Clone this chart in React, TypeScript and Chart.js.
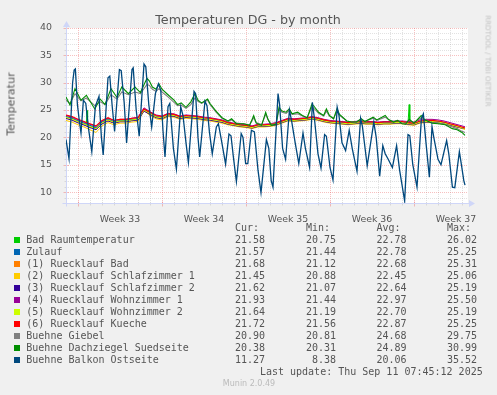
import React, { useEffect, useRef } from "react";
import { Chart, registerables } from "chart.js";

Chart.register(...registerables);

// ---- Legend / series meta ----
const seriesNames = [
  "Bad Raumtemperatur",
  "Zulauf",
  "(1) Ruecklauf Bad",
  "(2) Ruecklauf Schlafzimmer 1",
  "(3) Ruecklauf Schlafzimmer 2",
  "(4) Ruecklauf Wohnzimmer 1",
  "(5) Ruecklauf Wohnzimmer 2",
  "(6) Ruecklauf Kueche",
  "Buehne Giebel",
  "Buehne Dachziegel Suedseite",
  "Buehne Balkon Ostseite",
];
const seriesColors = [
  "#00CC00", "#0066B3", "#FF8000", "#FFCC00", "#330099", "#990099",
  "#CCFF00", "#FF0000", "#808080", "#008F00", "#00487D",
];
const curValues = ["21.58", "21.57", "21.68", "21.45", "21.62", "21.93", "21.64", "21.72", "20.90", "20.38", "11.27"];
const minValues = ["20.75", "21.44", "21.12", "20.88", "21.07", "21.44", "21.19", "21.56", "20.81", "20.31", "8.38"];
const avgValues = ["22.78", "22.78", "22.68", "22.45", "22.64", "22.97", "22.70", "22.87", "24.68", "24.89", "20.06"];
const maxValues = ["26.02", "25.25", "25.31", "25.06", "25.19", "25.50", "25.19", "25.25", "29.75", "30.99", "35.52"];

// ---- Axes ----
// x values are days since Sat Aug 9 2025 00:00
const weekLabelPositions = [4.5, 11.5, 18.5, 25.5, 32.5];
const weekLabels = ["Week 33", "Week 34", "Week 35", "Week 36", "Week 37"];
const majorDays = [1, 8, 15, 22, 29];
const yTickValues = [10, 15, 20, 25, 30, 35, 40];

// ---- Data ----
const clusterTimes = [0, 0.5, 1, 1.5, 2, 2.5, 3, 3.5, 4, 4.5, 5, 5.5, 6, 6.5, 7, 7.5, 8, 8.5, 9, 9.5, 10, 10.5, 11, 11.5, 12, 12.5, 13, 13.5, 14, 14.5, 15, 15.5, 16, 16.5, 17, 17.5, 18, 18.5, 19, 19.5, 20, 20.5, 21, 21.5, 22, 22.5, 23, 23.5, 24, 24.5, 25, 25.5, 26, 26.5, 27, 27.5, 28, 28.5, 29, 29.5, 30, 30.5, 31, 31.5, 32, 32.5, 33, 33.25];

const badTimes = [0, 0.5, 1, 1.5, 1.7, 1.75, 1.8, 2, 2.5, 3,
  3.5, 4, 4.5, 5, 5.5, 6, 6.5, 7, 7.5, 8,
  8.5, 9, 9.5, 10, 10.5, 11, 11.5, 12, 12.5, 13,
  13.5, 14, 14.5, 15, 15.5, 16, 16.5, 17, 17.5, 18,
  18.5, 19, 19.5, 20, 20.5, 21, 21.5, 22, 22.5, 23,
  23.5, 24, 24.5, 25, 25.5, 26, 26.5, 27, 27.5, 28,
  28.5, 28.55, 28.6, 28.65, 29, 29.5, 30, 30.5, 31, 31.5,
  32, 32.5, 33, 33.25];
const badRaumValues = [23.75, 23.45, 22.95, 22.55, 22.3, 24.9, 22.3, 22.1, 21.7, 22.75,
  23.3, 22.8, 23.05, 23.05, 23.25, 23.35, 25.0, 24.4, 23.8, 23.6,
  24.1, 24.0, 23.6, 23.8, 23.7, 23.6, 23.4, 23.3, 23.1, 22.9,
  22.55, 22.35, 22.15, 22.05, 21.85, 22.15, 22.15, 22.25, 22.45, 22.85,
  23.25, 23.15, 23.25, 23.35, 23.55, 23.35, 23.05, 22.85, 22.75, 22.65,
  22.55, 22.65, 22.75, 22.65, 22.65, 22.55, 22.65, 22.65, 22.75, 22.75,
  22.55, 22.55, 26.0, 22.5, 22.45, 22.85, 22.95, 22.95, 22.85, 22.65,
  22.35, 22.05, 21.75, 21.58];

const zulaufValues = [23.8, 23.5, 23.0, 22.6, 22.2, 21.8, 22.8, 23.3, 22.85, 23.1,
  23.1, 23.3, 23.4, 25.2, 24.4, 23.8, 23.6, 24.15, 24.05, 23.65,
  23.85, 23.75, 23.65, 23.45, 23.35, 23.15, 22.95, 22.6, 22.4, 22.2,
  22.1, 21.9, 22.2, 22.2, 22.3, 22.5, 22.9, 23.3, 23.2, 23.3,
  23.4, 23.6, 23.4, 23.1, 22.9, 22.8, 22.7, 22.6, 22.7, 22.8,
  22.7, 22.7, 22.6, 22.7, 22.7, 22.8, 22.8, 22.6, 22.5, 22.9,
  23.0, 23.0, 22.9, 22.7, 22.4, 22.1, 21.7, 21.57];

const rBadValues = [23.55, 23.25, 22.75, 22.35, 21.9, 21.5, 22.55, 23.1, 22.65, 22.9,
  22.9, 23.1, 23.2, 24.9, 24.25, 23.65, 23.45, 24.0, 23.9, 23.5,
  23.7, 23.6, 23.5, 23.3, 23.2, 23.0, 22.8, 22.45, 22.25, 22.05,
  21.95, 21.75, 22.05, 22.05, 22.15, 22.35, 22.75, 23.15, 23.05, 23.15,
  23.25, 23.45, 23.25, 22.95, 22.75, 22.65, 22.55, 22.45, 22.55, 22.65,
  22.55, 22.55, 22.45, 22.55, 22.55, 22.65, 22.65, 22.45, 22.35, 22.75,
  22.85, 22.85, 22.75, 22.55, 22.3, 22.0, 21.7, 21.68];

const rSchlaf1Values = [23.1, 22.8, 22.3, 21.9, 21.4, 20.9, 22.1, 22.7, 22.3, 22.6,
  22.6, 22.8, 22.9, 24.9, 24.0, 23.4, 23.2, 23.8, 23.7, 23.3,
  23.5, 23.4, 23.3, 23.1, 23.0, 22.8, 22.6, 22.3, 22.1, 21.9,
  21.8, 21.6, 21.9, 21.9, 22.0, 22.2, 22.6, 23.0, 22.9, 23.0,
  23.1, 23.3, 23.1, 22.8, 22.6, 22.5, 22.4, 22.3, 22.4, 22.5,
  22.4, 22.4, 22.3, 22.4, 22.4, 22.5, 22.5, 22.3, 22.2, 22.6,
  22.7, 22.7, 22.6, 22.4, 22.15, 21.9, 21.6, 21.45];

const rSchlaf2Values = [23.45, 23.15, 22.65, 22.25, 21.8, 21.4, 22.45, 23.0, 22.6, 22.85,
  22.85, 23.05, 23.15, 24.8, 24.2, 23.6, 23.4, 23.95, 23.85, 23.45,
  23.65, 23.55, 23.45, 23.25, 23.15, 22.95, 22.75, 22.4, 22.2, 22.0,
  21.9, 21.7, 22.0, 22.0, 22.1, 22.3, 22.7, 23.1, 23.0, 23.1,
  23.2, 23.4, 23.2, 22.9, 22.7, 22.6, 22.5, 22.4, 22.5, 22.6,
  22.5, 22.5, 22.4, 22.5, 22.5, 22.6, 22.6, 22.4, 22.3, 22.7,
  22.8, 22.8, 22.7, 22.5, 22.25, 21.95, 21.7, 21.62];

const rWohn1Values = [24.0, 23.7, 23.2, 22.8, 22.4, 22.0, 23.0, 23.5, 23.1, 23.3,
  23.3, 23.5, 23.7, 25.4, 24.7, 24.1, 23.9, 24.4, 24.3, 23.9,
  24.1, 24.0, 23.9, 23.7, 23.6, 23.4, 23.2, 22.8, 22.6, 22.4,
  22.3, 22.1, 22.4, 22.4, 22.5, 22.7, 23.1, 23.5, 23.4, 23.5,
  23.6, 23.8, 23.6, 23.3, 23.1, 23.0, 22.9, 22.8, 22.9, 23.0,
  22.9, 22.9, 22.8, 22.9, 22.9, 23.0, 23.0, 22.9, 22.8, 23.2,
  23.3, 23.3, 23.2, 23.0, 22.7, 22.4, 22.1, 21.93];

const rWohn2Values = [23.65, 23.35, 22.85, 22.45, 22.0, 21.6, 22.65, 23.2, 22.75, 23.0,
  23.0, 23.2, 23.3, 25.0, 24.35, 23.75, 23.55, 24.1, 24.0, 23.6,
  23.8, 23.7, 23.6, 23.4, 23.3, 23.1, 22.9, 22.5, 22.3, 22.1,
  22.0, 21.8, 22.1, 22.1, 22.2, 22.4, 22.8, 23.2, 23.1, 23.2,
  23.3, 23.5, 23.3, 23.0, 22.8, 22.7, 22.6, 22.5, 22.6, 22.7,
  22.6, 22.6, 22.5, 22.6, 22.6, 22.7, 22.7, 22.5, 22.4, 22.8,
  22.9, 22.9, 22.8, 22.6, 22.35, 22.05, 21.75, 21.64];

const rKuecheValues = [24.1, 23.8, 23.3, 22.9, 22.5, 22.1, 23.1, 23.6, 23.1, 23.3,
  23.3, 23.5, 23.6, 25.2, 24.6, 24.0, 23.8, 24.3, 24.2, 23.8,
  24.0, 23.9, 23.8, 23.6, 23.5, 23.3, 23.1, 22.7, 22.5, 22.3,
  22.2, 22.0, 22.3, 22.3, 22.4, 22.6, 23.0, 23.4, 23.3, 23.4,
  23.5, 23.7, 23.5, 23.2, 23.0, 22.9, 22.8, 22.7, 22.8, 22.9,
  22.8, 22.8, 22.7, 22.8, 22.8, 22.9, 22.9, 22.7, 22.6, 23.0,
  23.1, 23.1, 23.0, 22.8, 22.5, 22.2, 21.9, 21.72];

const buehneTimes = [0, 0.33, 0.75, 1.25, 1.7, 2.4, 2.85, 3.25, 3.75, 4.25,
  4.65, 5.2, 5.75, 6.2, 6.75, 6.95, 7.2, 7.5, 7.75, 8.0,
  8.5, 9.0, 9.3, 9.6, 10.0, 10.4, 10.75, 11.0, 11.3, 11.8,
  12.0, 12.5, 13.0, 13.5, 13.8, 14.2, 14.8, 15.3, 15.64, 15.85,
  16.3, 16.64, 16.85, 17.1, 17.5, 17.75, 18.0, 18.35, 18.6, 18.85,
  19.3, 19.7, 20.1, 20.5, 20.7, 21.05, 21.47, 21.7, 21.95, 22.3,
  22.58, 22.8, 23.4, 23.8, 24.2, 24.6, 24.9, 25.6, 25.9, 26.6,
  26.9, 27.3, 27.64, 28.0, 28.3, 28.6, 29.0, 29.6, 29.9, 30.5,
  31.0, 31.6, 32.2, 32.6, 33.0, 33.25];

const giebelValues = [26.8, 26.2, 28.0, 26.7, 27.2, 25.8, 26.5, 26.0, 27.8, 27.0,
  28.3, 27.8, 28.3, 28.0, 29.7, 29.5, 28.8, 28.4, 28.9, 28.3,
  27.4, 26.4, 25.8, 25.9, 25.3, 26.0, 27.2, 26.6, 26.2, 26.8,
  26.0, 24.6, 23.5, 22.9, 23.2, 22.6, 22.5, 22.3, 23.6, 22.7,
  22.3, 24.2, 23.2, 22.4, 22.5, 25.1, 24.6, 24.4, 24.9, 24.2,
  24.3, 23.9, 23.6, 25.6, 25.2, 24.4, 23.9, 24.8, 23.9, 23.4,
  24.8, 24.0, 23.0, 22.8, 22.8, 23.2, 22.9, 23.5, 23.1, 23.7,
  23.2, 22.9, 23.1, 22.6, 22.5, 23.2, 22.7, 23.6, 23.2, 22.7,
  22.6, 22.4, 21.9, 21.6, 21.1, 20.9];

const dachValues = [27.4, 25.9, 28.9, 26.8, 27.7, 25.2, 27.0, 26.0, 28.9, 27.3,
  29.2, 28.0, 29.2, 28.2, 30.8, 30.3, 29.2, 28.8, 29.8, 28.8,
  27.8, 26.8, 26.0, 26.3, 25.5, 26.5, 28.0, 26.8, 26.3, 27.0,
  26.2, 24.8, 23.6, 23.0, 23.4, 22.5, 22.5, 22.2, 24.0, 22.6,
  22.2, 24.6, 23.2, 22.2, 22.4, 25.5, 24.8, 24.6, 25.2, 24.3,
  24.6, 24.0, 23.6, 26.1, 25.6, 24.6, 24.0, 25.2, 24.0, 23.4,
  25.2, 24.2, 23.0, 22.8, 22.8, 23.4, 22.9, 23.7, 23.2, 24.0,
  23.2, 22.8, 23.1, 22.5, 22.4, 23.3, 22.6, 24.0, 23.2, 22.6,
  22.5, 22.3, 21.6, 21.4, 20.9, 20.38];

const balkonTimes = [0.0, 0.25, 0.55, 0.68, 0.78, 0.95, 1.1, 1.25, 1.45, 1.65,
  1.85, 2.15, 2.45, 2.75, 2.95, 3.1, 3.5, 3.65, 3.85, 4.05,
  4.45, 4.6, 4.85, 5.05, 5.5, 5.6, 5.85, 6.1, 6.5, 6.65,
  6.9, 7.14, 7.45, 7.7, 7.9, 8.08, 8.25, 8.5, 8.65, 8.95,
  9.2, 9.56, 9.75, 10.0, 10.2, 10.67, 10.8, 11.0, 11.14, 11.58,
  11.75, 11.95, 12.19, 12.53, 12.7, 12.95, 13.3, 13.58, 13.75, 13.95,
  14.2, 14.6, 14.75, 14.97, 15.15, 15.45, 15.7, 16.0, 16.25, 16.7,
  16.9, 17.1, 17.25, 17.67, 17.8, 18.05, 18.3, 18.62, 18.8, 19.1,
  19.4, 19.75, 19.95, 20.3, 20.53, 20.7, 21.0, 21.25, 21.55, 21.7,
  22.0, 22.25, 22.6, 22.75, 23.0, 23.3, 23.6, 23.85, 24.25, 24.55,
  24.7, 25.1, 25.65, 25.85, 26.14, 26.4, 26.6, 26.85, 27.2, 27.55,
  27.8, 28.22, 28.5, 28.65, 28.9, 29.25, 29.62, 29.78, 30.0, 30.28,
  30.5, 30.65, 31.0, 31.25, 31.72, 31.9, 32.2, 32.4, 32.78, 32.95,
  33.15, 33.25];

const balkonValues = [19.6, 16.1, 30.0, 32.3, 32.5, 26.0, 23.2, 20.8, 26.8, 26.2,
  22.0, 17.4, 25.7, 27.5, 20.0, 16.8, 30.9, 31.2, 25.7, 21.1,
  32.4, 32.2, 26.3, 19.0, 32.4, 32.7, 25.0, 20.2, 33.4, 32.9,
  26.0, 21.9, 28.0, 29.8, 28.6, 21.3, 16.4, 25.6, 26.2, 18.0,
  14.2, 25.6, 24.0, 19.0, 15.4, 28.4, 28.0, 20.0, 16.4, 26.6,
  25.8, 21.0, 17.0, 21.9, 22.5, 19.5, 15.1, 20.6, 20.3, 16.4,
  11.9, 20.7, 20.0, 15.2, 15.2, 21.3, 21.0, 14.0, 9.9, 19.6,
  18.0, 12.1, 10.9, 28.0, 26.0, 18.0, 16.0, 25.0, 23.0, 19.0,
  15.2, 20.8, 18.0, 14.5, 26.4, 23.5, 17.0, 14.4, 20.5, 20.2,
  14.5, 12.2, 25.5, 24.0, 19.0, 17.6, 21.3, 18.0, 13.8, 23.5,
  22.0, 14.8, 22.8, 20.0, 12.9, 18.5, 17.0, 16.0, 14.5, 18.5,
  14.0, 8.4, 20.5, 20.3, 15.0, 10.9, 23.5, 24.3, 19.0, 12.7,
  22.0, 20.0, 16.0, 15.0, 19.4, 17.0, 10.9, 10.8, 17.4, 15.0,
  12.1, 11.27];

const seriesTimes = [badTimes, clusterTimes, clusterTimes, clusterTimes, clusterTimes, clusterTimes, clusterTimes, clusterTimes, buehneTimes, buehneTimes, balkonTimes];
const seriesValues = [badRaumValues, zulaufValues, rBadValues, rSchlaf1Values, rSchlaf2Values, rWohn1Values, rWohn2Values, rKuecheValues, giebelValues, dachValues, balkonValues];
const seriesWidths = [1, 1, 1, 1, 1, 1, 1, 1.1, 1.1, 1.1, 1.3];

const GRID = "rgba(150,150,150,0.28)";
const MGRID = "rgba(235,90,90,0.38)";
const AXIS = "#CFD6F8";
const FONT_COLOR = "#555555";

const munGrid = {
  id: "munGrid",
  beforeDraw(chart: any) {
    const { ctx, chartArea: a } = chart;
    ctx.save();
    ctx.fillStyle = "#F0F0F0";
    ctx.fillRect(0, 0, chart.width, chart.height);
    ctx.fillStyle = "#FFFFFF";
    ctx.fillRect(a.left, a.top, a.right - a.left, a.bottom - a.top);
    ctx.restore();
  },
  beforeDatasetsDraw(chart: any) {
    const { ctx, chartArea: a } = chart;
    const xs = chart.scales.x;
    const ys = chart.scales.y;
    const px = (v: number) => Math.round(xs.getPixelForValue(v)) + 0.5;
    const py = (v: number) => Math.round(ys.getPixelForValue(v)) + 0.5;
    const line = (x1: number, y1: number, x2: number, y2: number, c: string) => {
      ctx.strokeStyle = c;
      ctx.beginPath();
      ctx.moveTo(x1, y1);
      ctx.lineTo(x2, y2);
      ctx.stroke();
    };
    ctx.save();
    ctx.lineWidth = 1;
    ctx.setLineDash([1, 1]);
    const dayMax = Math.floor(xs.max);
    for (let d = Math.ceil(xs.min); d <= dayMax; d++) {
      if (majorDays.indexOf(d) >= 0) continue;
      const x = px(d);
      if (x <= a.left + 1) continue;
      line(x, a.top, x, a.bottom, GRID);
    }
    for (let v = 9; v < 40; v++) {
      if (yTickValues.indexOf(v) >= 0) continue;
      const y = py(v);
      line(a.left, y, a.right, y, GRID);
    }
    majorDays.forEach((d) => {
      const x = px(d);
      line(x, a.top, x, a.bottom, MGRID);
    });
    yTickValues.forEach((v) => {
      const y = py(v);
      line(a.left, y, a.right, y, MGRID);
    });
    ctx.setLineDash([]);
    // tick marks
    const yb = Math.round(a.bottom) + 0.5;
    const xl = Math.round(a.left) + 0.5;
    for (let d = Math.ceil(xs.min); d <= dayMax; d++) {
      const x = px(d);
      if (majorDays.indexOf(d) >= 0) line(x, yb - 2, x, yb + 3, MGRID);
      else line(x, yb - 1, x, yb + 2, GRID);
    }
    for (let v = 9; v <= 40; v++) {
      const y = py(v);
      if (yTickValues.indexOf(v) >= 0) line(xl - 3, y, xl + 2, y, MGRID);
      else line(xl - 2, y, xl + 1, y, GRID);
    }
    // axes
    line(xl - 4, yb, a.right + 2, yb, AXIS);
    line(xl, yb + 3, xl, a.top - 2, AXIS);
    ctx.fillStyle = AXIS;
    ctx.beginPath();
    ctx.moveTo(a.right + 1, yb - 3.5);
    ctx.lineTo(a.right + 7, yb);
    ctx.lineTo(a.right + 1, yb + 3.5);
    ctx.closePath();
    ctx.fill();
    ctx.beginPath();
    ctx.moveTo(xl - 3.5, a.top - 1);
    ctx.lineTo(xl, a.top - 7);
    ctx.lineTo(xl + 3.5, a.top - 1);
    ctx.closePath();
    ctx.fill();
    ctx.restore();
  },
};

const mono = "'DejaVu Sans Mono', monospace";
const sans = "'DejaVu Sans', sans-serif";

export default function App() {
  const ref = useRef<HTMLCanvasElement>(null);

  useEffect(() => {
    const datasets = seriesNames.map((name, i) => ({
      label: name,
      data: seriesTimes[i].map((t, j) => ({ x: t, y: seriesValues[i][j] })),
      borderColor: seriesColors[i],
      backgroundColor: seriesColors[i],
      borderWidth: seriesWidths[i],
      pointRadius: 0,
      tension: 0,
      fill: false,
      order: 11 - i,
    }));
    const chart = new Chart(ref.current as HTMLCanvasElement, {
      type: "line",
      data: { datasets },
      options: {
        responsive: false,
        animation: false,
        devicePixelRatio: 1,
        layout: { padding: { left: 0, top: 28, right: 29, bottom: 172 } },
        plugins: {
          legend: { display: false },
          title: { display: false },
          tooltip: { enabled: false },
        },
        scales: {
          x: {
            type: "linear",
            min: 0,
            max: 33.5,
            grid: { display: false },
            border: { display: false },
            afterBuildTicks: (s: any) => {
              s.ticks = weekLabelPositions.map((v) => ({ value: v }));
            },
            afterFit: (s: any) => {
              s.height = 20;
            },
            ticks: {
              autoSkip: false,
              maxRotation: 0,
              padding: 3,
              color: FONT_COLOR,
              font: { family: "DejaVu Sans", size: 9.4 },
              callback: (_v: any, i: number) => weekLabels[i],
            },
          },
          y: {
            type: "linear",
            min: 8,
            max: 40,
            grid: { display: false },
            border: { display: false },
            afterBuildTicks: (s: any) => {
              s.ticks = yTickValues.map((v) => ({ value: v }));
            },
            afterFit: (s: any) => {
              s.width = 66;
            },
            ticks: {
              padding: 6,
              color: FONT_COLOR,
              font: { family: "DejaVu Sans", size: 9.4 },
              callback: (v: any) => String(v),
            },
          },
        },
      },
      plugins: [munGrid],
    } as any);
    return () => chart.destroy();
  }, []);

  const rowTop = (i: number) => 233.7 + 12 * i;
  const valueCols = [
    { right: 265, head: "Cur:", vals: curValues },
    { right: 336, head: "Min:", vals: minValues },
    { right: 406.5, head: "Avg:", vals: avgValues },
    { right: 477, head: "Max:", vals: maxValues },
  ];
  const txt: React.CSSProperties = {
    position: "absolute",
    fontFamily: mono,
    fontSize: 10,
    lineHeight: "12px",
    color: FONT_COLOR,
    whiteSpace: "pre",
  };

  return (
    <div style={{ position: "absolute", left: 0, top: 0, width: 497, height: 395, background: "#F0F0F0", overflow: "hidden" }}>
      <canvas ref={ref} width={497} height={395} style={{ position: "absolute", left: 0, top: 0, width: 497, height: 395 }} />
      <div style={{ position: "absolute", left: 248, top: 20, transform: "translate(-50%,-50%)", fontFamily: sans, fontSize: 12.7, lineHeight: 1, color: FONT_COLOR, whiteSpace: "nowrap" }}>
        Temperaturen DG - by month
      </div>
      <div style={{ position: "absolute", left: 11, top: 104, transform: "translate(-50%,-50%) rotate(-90deg)", fontFamily: sans, fontSize: 11, lineHeight: 1, color: FONT_COLOR, whiteSpace: "nowrap" }}>
        Temperatur
      </div>
      <div style={{ position: "absolute", left: 488, top: 61, transform: "translate(-50%,-50%) rotate(90deg)", fontFamily: sans, fontSize: 7.1, lineHeight: 1, color: "#C4C4C4", whiteSpace: "nowrap" }}>
        RRDTOOL / TOBI OETIKER
      </div>
      {valueCols.map((c) => (
        <div key={c.head} style={{ ...txt, left: c.right - 30, top: 221.7 }}>{c.head}</div>
      ))}
      {seriesNames.map((name, i) => (
        <React.Fragment key={name}>
          <div style={{ position: "absolute", left: 14, top: Math.round(rowTop(i) + 3), width: 6, height: 6, background: seriesColors[i] }} />
          <div style={{ ...txt, left: 26.3, top: rowTop(i) }}>{name}</div>
          {valueCols.map((c) => (
            <div key={c.head} style={{ ...txt, left: c.right - 60, width: 60, textAlign: "right", top: rowTop(i) }}>{c.vals[i]}</div>
          ))}
        </React.Fragment>
      ))}
      <div style={{ ...txt, right: 14.3, top: 365.7 }}>Last update: Thu Sep 11 07:45:12 2025</div>
      <div style={{ position: "absolute", left: 249, top: 384, transform: "translate(-50%,-50%)", fontFamily: sans, fontSize: 8, lineHeight: 1, color: "#BBBBBB", whiteSpace: "nowrap" }}>
        Munin 2.0.49
      </div>
    </div>
  );
}
